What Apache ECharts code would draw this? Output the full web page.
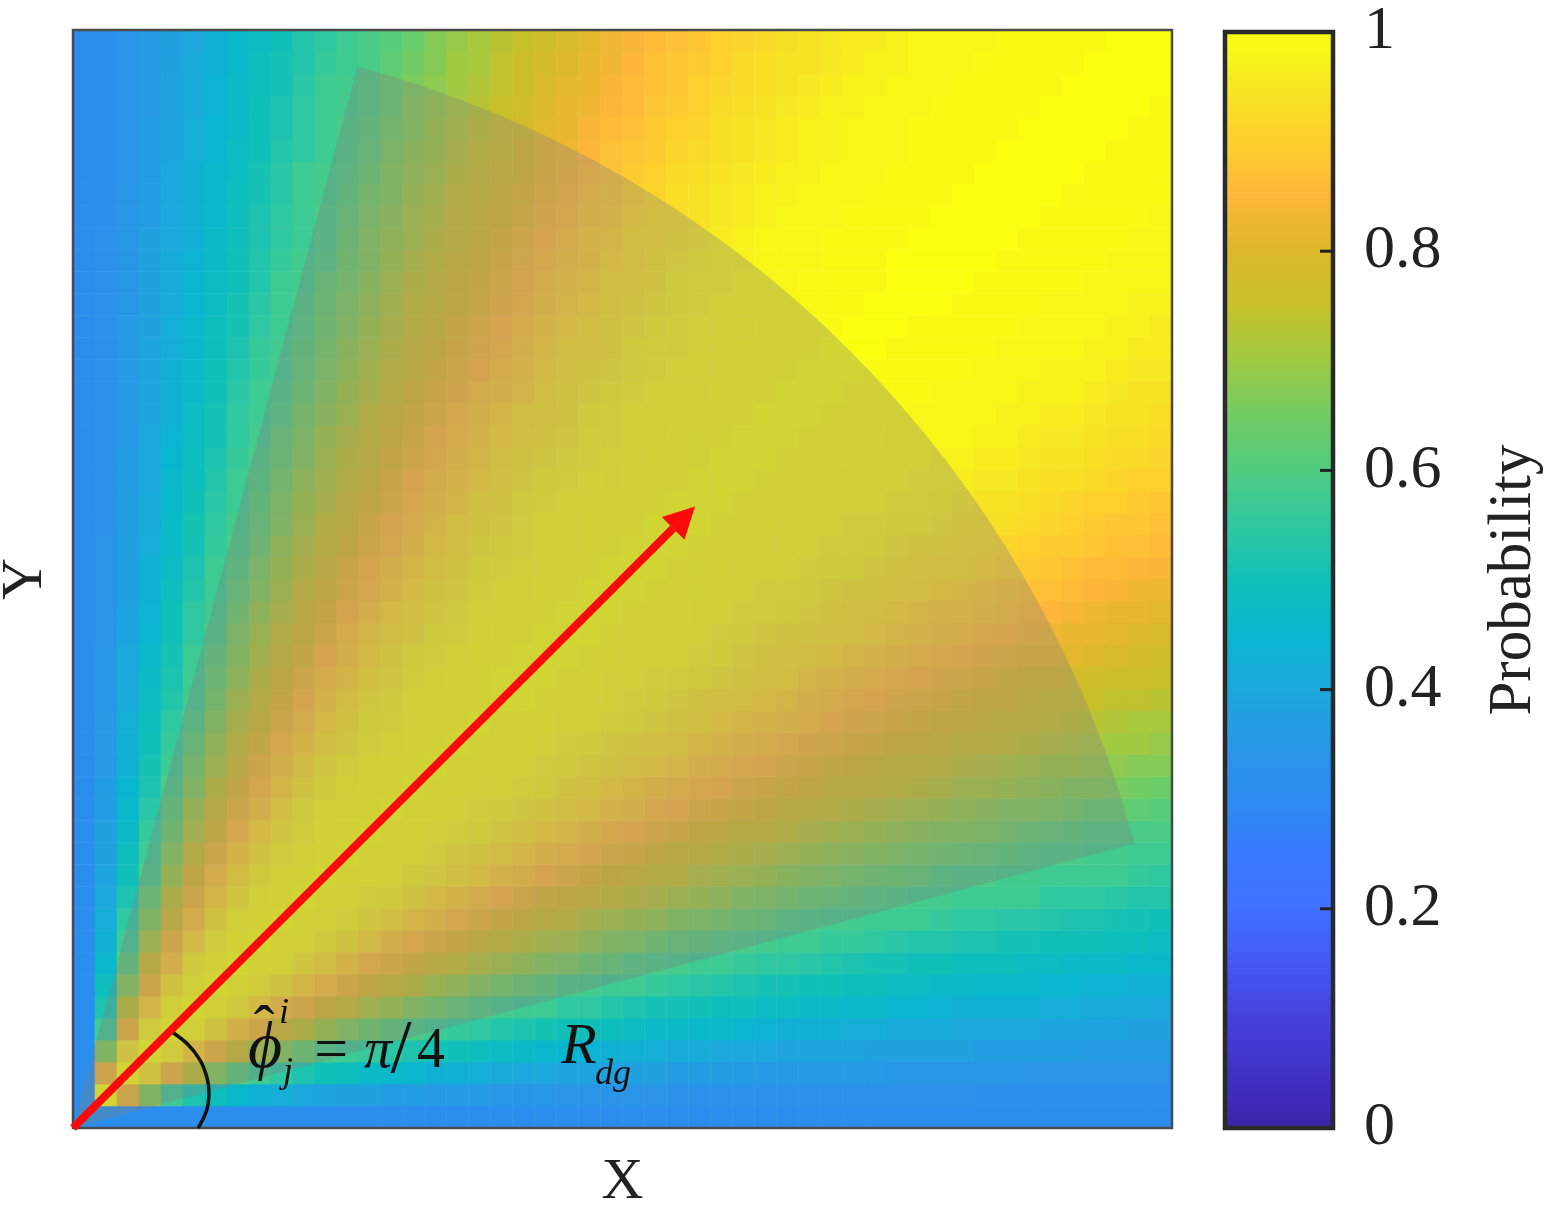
<!DOCTYPE html>
<html><head><meta charset="utf-8">
<style>html,body{margin:0;padding:0;background:#fff}#c{width:1546px;height:1207px}</style>
<script src="https://cdn.jsdelivr.net/npm/echarts@6/dist/echarts.min.js"></script>
</head><body><div id="c"></div>
<script>
// Probability in percent. Row j holds columns 0..j; the picture mirrors across the diagonal.
const lowerTriangle = [
[31],
[31,100],
[31,83,100],
[31,67,94,100],
[31,57,83,97,100],
[31,52,74,90,98,100],
[31,49,67,83,94,98,100],
[31,46,61,77,88,96,99,100],
[31,43,57,71,83,91,97,99,100],
[31,42,55,67,78,87,94,98,99,100],
[31,40,52,63,74,83,90,95,98,99,100],
[31,39,50,59,70,80,87,92,96,98,99,100],
[31,38,49,57,67,76,83,89,94,97,98,99,100],
[31,38,47,56,64,72,80,86,91,95,97,99,99,100],
[31,37,46,54,61,70,77,83,88,93,96,98,99,99,100],
[31,37,45,52,59,67,74,81,86,90,94,96,98,99,99,100],
[31,36,43,51,57,65,71,78,83,88,91,95,97,98,99,99,100],
[31,36,43,50,56,62,69,75,81,86,89,93,95,97,98,99,99,100],
[31,36,42,49,55,60,67,73,78,83,87,91,94,96,97,98,99,99,100],
[31,35,41,48,53,58,65,71,76,81,85,89,92,95,96,98,99,99,99,100],
[31,35,40,47,52,57,63,69,74,79,83,87,90,93,95,97,98,99,99,100,100],
[31,35,40,46,51,57,61,67,72,77,81,85,88,91,94,96,97,98,99,99,100,100],
[31,34,39,45,50,55,59,66,71,75,80,83,87,90,92,94,96,97,98,99,99,100,100],
[31,34,39,44,50,55,58,64,69,73,78,81,85,88,91,93,95,96,98,98,99,99,100,100],
[31,34,38,43,49,53,57,62,67,71,76,80,83,86,89,91,94,95,97,98,98,99,99,100,100],
[31,34,38,43,48,52,57,60,66,70,74,78,82,85,88,90,92,94,96,97,98,98,99,99,100,100],
[31,34,38,42,47,51,56,59,64,69,73,76,80,83,86,88,91,93,95,96,97,98,98,99,99,100,100],
[31,33,37,41,47,51,55,58,62,67,71,75,78,82,85,87,90,92,94,95,97,98,98,99,99,99,100,100],
[31,33,37,41,46,50,54,57,61,66,70,73,77,80,83,86,88,90,93,94,96,97,98,98,99,99,99,100,100],
[31,33,37,40,46,49,53,57,60,65,69,72,75,79,82,85,87,89,91,93,95,96,97,98,98,99,99,99,100,100],
[31,33,37,40,45,49,52,56,59,63,67,71,74,77,81,83,86,88,90,92,94,95,96,97,98,98,99,99,99,100,100],
[31,33,36,40,44,48,51,55,58,62,66,70,73,76,80,82,85,87,89,91,93,94,95,97,97,98,98,99,99,99,100,100],
[31,33,36,39,43,48,51,55,57,60,65,68,71,75,78,81,83,86,88,90,92,93,94,96,97,98,98,98,99,99,99,100,100],
[31,33,36,39,43,47,50,54,57,59,63,67,70,73,76,80,82,84,87,88,90,92,94,95,96,97,98,98,98,99,99,99,100,100],
[31,33,36,39,43,47,50,53,56,58,62,66,69,72,75,78,81,83,85,87,89,91,93,94,95,96,97,98,98,98,99,99,99,100,100],
[31,33,36,39,42,46,49,52,56,58,61,65,68,71,74,77,80,82,84,86,88,90,92,93,94,96,97,97,98,98,99,99,99,99,100,100],
[31,33,36,38,42,46,49,51,55,57,60,64,67,70,73,76,78,81,83,85,87,89,91,92,94,95,96,97,98,98,98,99,99,99,99,100,100],
[31,33,35,38,41,45,48,51,54,57,59,63,66,69,72,75,77,80,82,84,86,88,90,91,93,94,95,96,97,98,98,98,99,99,99,99,100,100],
[31,33,35,38,41,45,48,50,53,57,58,62,65,68,71,74,76,79,81,83,85,87,89,90,92,93,94,96,97,97,98,98,98,99,99,99,99,100,100],
[31,33,35,38,41,44,47,50,53,56,58,60,64,67,70,73,75,78,80,82,84,86,88,89,91,92,94,95,96,97,97,98,98,98,99,99,99,100,100,100],
[31,33,35,38,40,43,47,49,52,55,57,59,63,67,69,71,74,76,79,81,83,85,87,89,90,92,93,94,95,96,97,98,98,98,99,99,99,99,100,100,100],
[31,32,35,37,40,43,46,49,52,55,57,59,62,66,68,71,73,76,78,80,82,84,86,88,89,91,92,93,94,95,96,97,98,98,98,99,99,99,99,100,100,100],
[31,32,35,37,40,43,46,49,51,54,57,58,61,65,67,70,72,75,77,80,81,83,85,87,88,90,91,93,94,95,96,97,97,98,98,98,99,99,99,99,100,100,100],
[31,32,34,37,40,43,46,48,51,54,57,58,60,63,67,69,71,74,76,78,80,82,84,86,87,89,90,92,93,94,95,96,97,97,98,98,98,99,99,99,99,100,100,100],
[31,32,34,37,39,42,45,48,50,53,55,57,59,62,66,68,70,73,75,77,80,82,83,85,87,88,89,91,92,93,94,95,96,97,97,98,98,98,99,99,99,99,100,100,100],
[31,32,34,37,39,42,45,47,50,52,55,57,59,61,65,67,70,72,74,76,78,81,82,84,86,87,89,90,91,93,94,95,96,97,97,98,98,98,99,99,99,99,99,100,100,100],
[31,32,34,36,39,41,44,47,50,52,55,57,58,60,63,67,69,71,73,75,77,80,82,83,85,86,88,89,90,92,93,94,95,96,97,97,98,98,98,99,99,99,99,99,100,100,100],
[31,32,34,36,39,41,44,47,49,51,54,57,58,60,63,66,68,70,72,74,76,79,81,82,84,86,87,88,90,91,92,93,94,95,96,97,97,98,98,98,99,99,99,99,99,100,100,100],
[31,32,34,36,38,41,43,46,49,51,53,56,57,59,62,65,67,70,71,74,76,78,80,82,83,85,87,88,89,90,92,93,94,94,95,96,97,97,98,98,98,99,99,99,99,99,100,100,100],
[31,32,34,36,38,40,43,46,48,50,53,55,57,59,61,64,67,69,71,73,75,77,79,81,83,84,86,87,88,90,91,92,93,94,95,96,96,97,98,98,98,98,99,99,99,99,99,100,100,100]
];
const gridSize = 50;
// Colour map of the colour bar, from 0 to 1 in even steps.
const colorStops = ['#3a24a8','#4030c4','#4640dc','#4458f0','#4070ff','#3878ff','#2c8cf0','#2896e6','#1ca8dc','#08b6d0','#10c0b8','#30c8a0','#50cc80','#72cc64','#a0ca42','#c8c02a','#dcb82a','#feb63a','#fdd02c','#f6e822','#faff10'];
const colorbarTicks = [0.2,0.4,0.6,0.8];
const sectorSpec = [1, 15, 75];            // radius (axis units), from and to angle in degrees
const arrowLine = [[0,0],[0.566,0.566]];
const angleArc = [[0.0898,0.0877],[0.1035,0.0771],[0.1156,0.0619],[0.1217,0.0467],[0.1237,0.0331],[0.1217,0.0164],[0.114,0]];
const notes = [
  ['\u03D5',0.1747,0.071,66,'italic'],
  ['\u02C6',0.1738,0.0875,62,'normal'],
  ['i',0.192,0.1047,36,'italic'],
  ['j',0.1956,0.0501,36,'italic'],
  ['=',0.2348,0.0692,60,'normal'],
  ['\u03C0',0.2775,0.0692,56,'italic'],
  ['/',0.2984,0.0692,76,'normal'],
  ['4',0.3258,0.0692,56,'normal'],
  ['R',0.4604,0.0728,58,'italic'],
  ['dg',0.4914,0.0491,36,'italic']
];

const indexCats = Array.from({length:gridSize},(_, k)=>String(k));
const heatData = [];
lowerTriangle.forEach((row,j)=>row.forEach((v,i)=>{
  heatData.push([i,j,v/100]);
  if(i!==j) heatData.push([j,i,v/100]);
}));
const serif = '"Liberation Serif","Times New Roman",serif';
const frameColor = '#4a4a4a';

const chart = echarts.init(document.getElementById('c'),null,{renderer:'canvas'});
chart.setOption({
  animation:false,
  backgroundColor:'#fff',
  grid:[
    {left:73,top:30,width:1099,height:1098,show:false,outerBoundsMode:'none'},
    {left:1225,top:32,width:108,height:1096,show:false,outerBoundsMode:'none'}
  ],
  xAxis:[
    {type:'category',gridIndex:0,data:indexCats,name:'X',nameLocation:'middle',nameGap:26,
     nameTextStyle:{fontFamily:serif,fontSize:58,color:'#222'},
     axisLine:{show:false},axisTick:{show:false},axisLabel:{show:false},splitLine:{show:false}},
    {type:'value',gridIndex:0,min:0,max:1,show:false},
    {type:'value',gridIndex:1,min:0,max:1,show:false}
  ],
  yAxis:[
    {type:'category',gridIndex:0,data:indexCats,name:'Y',nameLocation:'middle',nameGap:18,
     nameTextStyle:{fontFamily:serif,fontSize:58,color:'#222'},
     axisLine:{show:false},axisTick:{show:false},axisLabel:{show:false},splitLine:{show:false}},
    {type:'value',gridIndex:0,min:0,max:1,show:false},
    {type:'value',gridIndex:1,min:0,max:1,interval:0.2,position:'right',z:10,
     name:'Probability',nameLocation:'middle',nameGap:150,nameRotate:90,
     nameTextStyle:{fontFamily:serif,fontSize:61,color:'#222'},
     axisLine:{show:false},splitLine:{show:false},axisTick:{show:false},
     axisLabel:{show:true,margin:31,padding:[4,0,0,0],fontFamily:serif,fontSize:62,color:'#222',
       formatter:v=>String(+v.toFixed(1))}}
  ],
  visualMap:{show:false,type:'continuous',seriesIndex:0,min:0,max:1,dimension:2,inRange:{color:colorStops}},
  series:[
    {type:'heatmap',xAxisIndex:0,yAxisIndex:0,data:heatData,progressive:0,emphasis:{disabled:true},itemStyle:{borderWidth:0}},
    {type:'custom',name:'frame',xAxisIndex:1,yAxisIndex:1,z:3,silent:true,data:[[0,0,1,1]],clip:false,
     renderItem:(p,api)=>{
       const a=api.coord([api.value(0),api.value(1)]),b=api.coord([api.value(2),api.value(3)]);
       return {type:'rect',shape:{x:a[0],y:b[1],width:b[0]-a[0],height:a[1]-b[1]},style:{fill:'none',stroke:frameColor,lineWidth:2.5}};
     }},
    {type:'custom',name:'sector',xAxisIndex:1,yAxisIndex:1,z:4,silent:true,data:[sectorSpec],
     renderItem:(p,api)=>{
       const c=api.coord([0,0]),r=api.size([api.value(0),0])[0];
       return {type:'sector',shape:{cx:c[0],cy:c[1],r0:0,r:r,startAngle:-api.value(2)*Math.PI/180,endAngle:-api.value(1)*Math.PI/180,clockwise:true},
         style:{fill:'rgba(128,128,128,0.33)'}};
     }},
    {type:'line',name:'arc',xAxisIndex:1,yAxisIndex:1,z:5,silent:true,data:angleArc,smooth:0.3,symbol:'none',
     lineStyle:{color:'#111',width:3.5}},
    {type:'custom',name:'arrow',xAxisIndex:1,yAxisIndex:1,z:6,silent:true,data:[[arrowLine[0][0],arrowLine[0][1],arrowLine[1][0],arrowLine[1][1]]],clip:false,
     renderItem:(p,api)=>{
       const a=api.coord([api.value(0),api.value(1)]),t=api.coord([api.value(2),api.value(3)]);
       const dx=t[0]-a[0],dy=t[1]-a[1],L=Math.hypot(dx,dy),ux=dx/L,uy=dy/L,h=31,w=16;
       const bx=t[0]-ux*h,by=t[1]-uy*h;
       return {type:'group',children:[
         {type:'line',shape:{x1:a[0],y1:a[1],x2:bx,y2:by},style:{stroke:'#fb0a0a',lineWidth:8}},
         {type:'polygon',shape:{points:[[t[0],t[1]],[bx-uy*w,by+ux*w],[bx+uy*w,by-ux*w]]},style:{fill:'#fb0a0a'}}
       ]};
     }},
    {type:'custom',name:'notes',xAxisIndex:1,yAxisIndex:1,z:7,silent:true,data:notes.map((n,k)=>[n[1],n[2],k]),
     renderItem:(p,api)=>{
       const q=api.coord([api.value(0),api.value(1)]),n=notes[api.value(2)];
       return {type:'text',style:{x:q[0],y:q[1],text:n[0],textAlign:'center',textVerticalAlign:'middle',
         font:n[4]+' '+n[3]+'px '+serif,fill:'#111'}};
     }},
    {type:'custom',name:'colorbar',xAxisIndex:2,yAxisIndex:2,z:2,silent:true,data:[[0,0,1,1]],clip:false,
     renderItem:(p,api)=>{
       const a=api.coord([api.value(0),api.value(1)]),b=api.coord([api.value(2),api.value(3)]);
       return {type:'rect',shape:{x:a[0],y:b[1],width:b[0]-a[0],height:a[1]-b[1]},
         style:{stroke:'#2a2a2a',lineWidth:4.5,
           fill:new echarts.graphic.LinearGradient(0,1,0,0,colorStops.map((c,k)=>({offset:k/(colorStops.length-1),color:c})))}};
     }},
    {type:'custom',name:'colorbarTicks',xAxisIndex:2,yAxisIndex:2,z:3,silent:true,data:colorbarTicks.map(v=>[1,v]),clip:false,
     renderItem:(p,api)=>{
       const q=api.coord([api.value(0),api.value(1)]);
       return {type:'line',shape:{x1:q[0]-13,y1:q[1],x2:q[0],y2:q[1]},style:{stroke:'#222',lineWidth:3}};
     }}
  ]
});
</script></body></html>
